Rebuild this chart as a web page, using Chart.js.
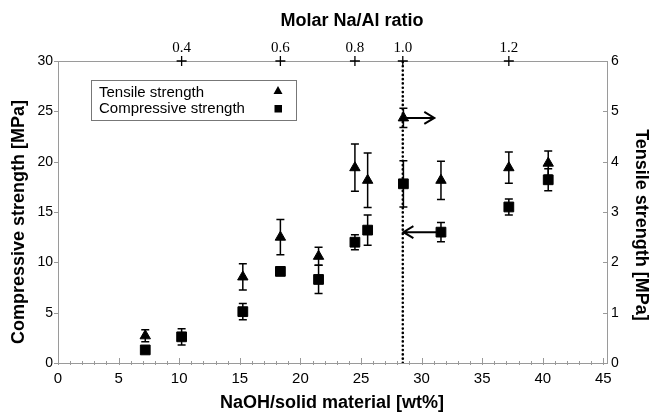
<!DOCTYPE html>
<html>
<head>
<meta charset="utf-8">
<script src="https://cdn.jsdelivr.net/npm/chart.js@4.4.0/dist/chart.umd.min.js"></script>
<style>
html,body{margin:0;padding:0;background:#fff}
#wrap{width:652px;height:416px}
</style>
</head>
<body>
<div id="wrap"><canvas id="myChart"></canvas></div>
<script>
// data
const naohWt = [7.2, 10.2, 15.25, 18.35, 21.5, 24.5, 25.55, 28.5, 31.6, 37.2, 40.45];
const compressive = [1.3, 2.6, 5.1, 9.1, 8.3, 12.0, 13.2, 17.8, 13.0, 15.5, 18.2];
const compressiveErr = [0, 0.8, 0.8, 0.3, 1.4, 0.75, 1.5, 2.3, 0.95, 0.8, 1.1];
const tensile = [0.54, null, 1.71, 2.5, 2.12, 3.88, 3.63, 4.87, 3.63, 3.88, 3.97];
const tensileErr = [0.12, 0, 0.26, 0.35, 0.18, 0.47, 0.54, 0.19, 0.38, 0.31, 0.24];

const ratioLabels = ['0.4', '0.6', '0.8', '1.0', '1.2'];
const ratioAtWt = [10.2, 18.35, 24.5, 28.45, 37.2];
const bottomTicks = [0, 5, 10, 15, 20, 25, 30, 35, 40, 45];
const leftTicks = [0, 5, 10, 15, 20, 25, 30];
const rightTicks = [0, 1, 2, 3, 4, 5, 6];
const stoichWt = 28.45;

// arrows pointing to the axis each series belongs to
const arrowFromX = [28.5, 31.25];
const arrowToX = [31.05, 28.5];
const arrowY = [4.87, 13.0];
const arrowAxis = ['y2', 'y'];

const sans = '"Liberation Sans", Arial, sans-serif';
const serif = '"Liberation Serif", "Times New Roman", serif';
const axisGray = '#9a9a9a';

Chart.defaults.font.family = sans;
Chart.defaults.color = '#000';

const toPoints = (xs, ys) => xs.map((x, i) => ({x: x, y: ys[i]})).filter(p => p.y !== null);

const decorPlugin = {
  id: 'decor',
  beforeDatasetsDraw(chart) {
    const ctx = chart.ctx;
    const x = chart.scales.x;
    ctx.save();
    ctx.strokeStyle = '#000';
    ctx.lineWidth = 1.5;
    const bars = [[compressive, compressiveErr, chart.scales.y], [tensile, tensileErr, chart.scales.y2]];
    bars.forEach(([vals, errs, ys]) => {
      vals.forEach((v, i) => {
        if (v === null || !errs[i]) return;
        const px = x.getPixelForValue(naohWt[i]);
        const top = ys.getPixelForValue(v + errs[i]);
        const bot = ys.getPixelForValue(v - errs[i]);
        ctx.beginPath();
        ctx.moveTo(px, top); ctx.lineTo(px, bot);
        ctx.moveTo(px - 4, top); ctx.lineTo(px + 4, top);
        ctx.moveTo(px - 4, bot); ctx.lineTo(px + 4, bot);
        ctx.stroke();
      });
    });
    ctx.restore();
  },
  afterDraw(chart) {
    const ctx = chart.ctx;
    const {left, right, top, bottom} = chart.chartArea;
    const x = chart.scales.x, y = chart.scales.y, y2 = chart.scales.y2;
    ctx.save();

    // axis tick marks
    ctx.strokeStyle = axisGray;
    ctx.lineWidth = 1;
    ctx.beginPath();
    leftTicks.forEach(v => {
      const py = Math.round(y.getPixelForValue(v)) + 0.5;
      ctx.moveTo(left - 4, py); ctx.lineTo(left, py);
    });
    rightTicks.forEach(v => {
      const py = Math.round(y2.getPixelForValue(v)) + 0.5;
      ctx.moveTo(right - 4, py); ctx.lineTo(right, py);
    });
    for (let v = 0; v <= 45; v++) {
      const px = Math.round(x.getPixelForValue(v)) + 0.5;
      if (v % 5 === 0) { ctx.moveTo(px, bottom - 5); ctx.lineTo(px, bottom + 2); }
      else { ctx.moveTo(px, bottom - 2); ctx.lineTo(px, bottom + 2); }
    }
    ctx.stroke();

    // "+" marks of the molar ratio axis
    ctx.strokeStyle = '#000';
    ctx.lineWidth = 1.3;
    ctx.beginPath();
    ratioAtWt.forEach(v => {
      const px = x.getPixelForValue(v);
      ctx.moveTo(px, top - 5); ctx.lineTo(px, top + 5);
      ctx.moveTo(px - 5, top); ctx.lineTo(px + 5, top);
    });
    ctx.stroke();

    // arrows
    ctx.lineWidth = 2;
    arrowFromX.forEach((fx, i) => {
      const ys = chart.scales[arrowAxis[i]];
      const py = ys.getPixelForValue(arrowY[i]);
      const x0 = x.getPixelForValue(fx), x1 = x.getPixelForValue(arrowToX[i]);
      const dir = x1 > x0 ? -1 : 1;
      ctx.beginPath();
      ctx.moveTo(x0, py); ctx.lineTo(x1, py);
      ctx.moveTo(x1 + dir * 10, py - 6); ctx.lineTo(x1, py); ctx.lineTo(x1 + dir * 10, py + 6);
      ctx.stroke();
    });

    // legend
    ctx.strokeStyle = '#777';
    ctx.lineWidth = 1;
    ctx.strokeRect(91.5, 80.5, 205, 40);
    ctx.fillStyle = '#000';
    ctx.font = '15px ' + sans;
    ctx.textAlign = 'left';
    ctx.textBaseline = 'middle';
    ctx.fillText(chart.data.datasets[0].label, 99, 93);
    ctx.fillText(chart.data.datasets[1].label, 99, 109);
    ctx.beginPath();
    ctx.moveTo(278, 86); ctx.lineTo(282.5, 94); ctx.lineTo(273.5, 94); ctx.closePath();
    ctx.fill();
    ctx.fillRect(274.5, 105, 7.5, 7.5);

    // titles
    ctx.font = 'bold 18px ' + sans;
    ctx.textAlign = 'center';
    ctx.fillText('NaOH/solid material [wt%]', 332, 403);
    ctx.fillText('Molar Na/Al ratio', 352, 21);
    ctx.save();
    ctx.translate(19, 222);
    ctx.rotate(-Math.PI / 2);
    ctx.fillText('Compressive strength [MPa]', 0, 0);
    ctx.restore();
    ctx.save();
    ctx.translate(641, 225);
    ctx.rotate(Math.PI / 2);
    ctx.fillText('Tensile strength [MPa]', 0, 0);
    ctx.restore();

    ctx.restore();
  }
};

const ctx = document.getElementById('myChart');

new Chart(ctx, {
  type: 'scatter',
  data: {
    datasets: [{
      label: 'Tensile strength',
      data: toPoints(naohWt, tensile),
      yAxisID: 'y2',
      pointStyle: 'triangle',
      pointRadius: 6,
      backgroundColor: '#000',
      borderColor: '#000',
      borderWidth: 1
    }, {
      label: 'Compressive strength',
      data: toPoints(naohWt, compressive),
      yAxisID: 'y',
      pointStyle: 'rect',
      pointRadius: 6.9,
      backgroundColor: '#000',
      borderColor: '#000',
      borderWidth: 1
    }, {
      label: 'Na/Al = 1.0',
      data: [{x: stoichWt, y: leftTicks[0]}, {x: stoichWt, y: leftTicks[leftTicks.length - 1]}],
      yAxisID: 'y',
      showLine: true,
      pointRadius: 0,
      borderColor: '#000',
      borderWidth: 2.6,
      borderCapStyle: 'round',
      borderDash: [0.1, 4.2]
    }]
  },
  options: {
    responsive: true,
    maintainAspectRatio: false,
    animation: false,
    layout: {padding: 0},
    plugins: {legend: {display: false}, tooltip: {enabled: false}},
    scales: {
      x: {
        type: 'linear', position: 'bottom', min: 0, max: 45.3,
        afterBuildTicks: s => { s.ticks = bottomTicks.map(v => ({value: v})); },
        afterFit: s => { s.height = 53; },
        grid: {display: false, drawTicks: false},
        border: {display: true, color: axisGray, width: 1},
        ticks: {font: {size: 15}, color: '#000', padding: 7, maxRotation: 0, autoSkip: false}
      },
      x2: {
        type: 'linear', position: 'top', min: 0, max: 45.3,
        afterBuildTicks: s => { s.ticks = ratioAtWt.map(v => ({value: v})); },
        afterFit: s => { s.height = 61; },
        grid: {display: false, drawTicks: false},
        border: {display: true, color: axisGray, width: 1},
        ticks: {
          font: {size: 15, family: serif}, color: '#000', padding: 4, maxRotation: 0, autoSkip: false,
          callback: (v, i) => ratioLabels[i]
        }
      },
      y: {
        type: 'linear', position: 'left', min: 0, max: 30,
        afterBuildTicks: s => { s.ticks = leftTicks.map(v => ({value: v})); },
        afterFit: s => { s.width = 58; },
        grid: {display: false, drawTicks: false},
        border: {display: true, color: axisGray, width: 1},
        ticks: {font: {size: 14}, color: '#000', padding: 5}
      },
      y2: {
        type: 'linear', position: 'right', min: 0, max: 6,
        afterBuildTicks: s => { s.ticks = rightTicks.map(v => ({value: v})); },
        afterFit: s => { s.width = 45; },
        grid: {display: false, drawTicks: false},
        border: {display: true, color: axisGray, width: 1},
        ticks: {font: {size: 14}, color: '#000', padding: 4}
      }
    }
  },
  plugins: [decorPlugin]
});
</script>
</body>
</html>
